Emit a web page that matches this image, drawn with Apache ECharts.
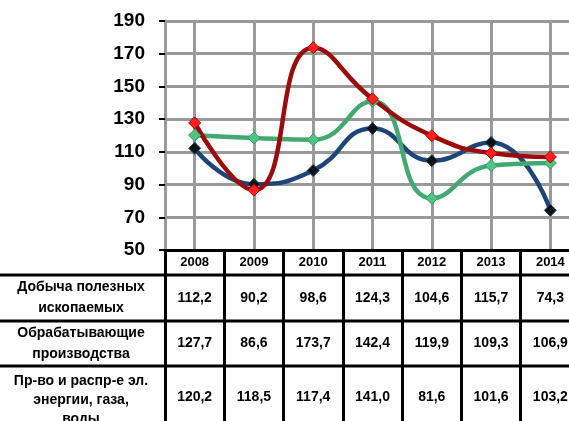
<!DOCTYPE html>
<html>
<head>
<meta charset="utf-8">
<script src="https://cdn.jsdelivr.net/npm/echarts@6/dist/echarts.min.js"></script>
<style>
html,body{margin:0;padding:0;background:#fff;}
#c{width:569px;height:421px;}
</style>
</head>
<body>
<div id="c"></div>
<script>
const years = ['2008','2009','2010','2011','2012','2013','2014'];
const mining = [112.2, 90.2, 98.6, 124.3, 104.6, 115.7, 74.3];
const manufacturing = [127.7, 86.6, 173.7, 142.4, 119.9, 109.3, 106.9];
const energy = [120.2, 118.5, 117.4, 141.0, 81.6, 101.6, 103.2];
const rowNames = ['Добыча полезных\nископаемых', 'Обрабатывающие\nпроизводства', 'Пр-во и распр-е эл.\nэнергии, газа,\nводы'];
const yMin = 50, yMax = 190, yStep = 20;

const fmt = v => v.toFixed(1).replace('.', ',');
const FONT = 'Liberation Sans, Arial, sans-serif';

const chart = echarts.init(document.getElementById('c'), null, {renderer: 'canvas'});

function valueAxis(values, margin) {
  return {
    type: 'category', gridIndex: 0, position: 'bottom', data: values.map(fmt),
    axisLine: {show: false}, axisTick: {show: false}, splitLine: {show: false},
    axisLabel: {interval: 0, margin: margin, verticalAlign: 'middle', color: '#000',
      fontWeight: 'bold', fontSize: 14, fontFamily: FONT}
  };
}

function rowText(i, y, lh) {
  return {type: 'text', x: 81, y: y, style: {text: rowNames[i], fill: '#000', font: 'bold 14px ' + FONT,
    textAlign: 'center', textVerticalAlign: 'middle', lineHeight: lh, align: 'center', verticalAlign: 'middle'}};
}

const option = {
  animation: false,
  backgroundColor: '#fff',
  grid: {left: 165, width: 415, top: 21, bottom: 171, containLabel: false, outerBoundsMode: 'none'},
  xAxis: [
    {
      type: 'category', data: years, position: 'bottom',
      axisLine: {show: true, lineStyle: {color: '#000', width: 3}},
      axisTick: {show: true, length: 171, lineStyle: {color: '#000', width: 3}},
      splitLine: {show: true, alignWithLabel: true, lineStyle: {color: '#999', width: 3}},
      axisLabel: {interval: 0, margin: 12, verticalAlign: 'middle', color: '#000',
        fontWeight: 'bold', fontSize: 13, fontFamily: FONT}
    },
    valueAxis(mining, 48),
    valueAxis(manufacturing, 93),
    valueAxis(energy, 147)
  ],
  yAxis: {
    type: 'value', min: yMin, max: yMax, interval: yStep,
    axisLine: {show: true, lineStyle: {color: '#999', width: 3}},
    axisTick: {show: true, length: 6, lineStyle: {color: '#000', width: 2}},
    splitLine: {show: true, lineStyle: {color: '#999', width: 3}},
    axisLabel: {margin: 20, color: '#000', fontWeight: 'bold', fontSize: 19, fontFamily: FONT}
  },
  series: [
    {
      name: 'Добыча полезных ископаемых', type: 'line', data: mining, smooth: 0.5,
      symbol: 'diamond', symbolSize: 12,
      lineStyle: {color: '#1d4577', width: 4.5},
      itemStyle: {color: '#111', borderColor: '#1d4577', borderWidth: 1}
    },
    {
      name: 'Пр-во и распр-е эл. энергии, газа, воды', type: 'line', data: energy, smooth: 0.5,
      symbol: 'diamond', symbolSize: 12,
      lineStyle: {color: '#44a872', width: 4.5},
      itemStyle: {color: '#4fc483', borderColor: '#3a9a66', borderWidth: 1}
    },
    {
      name: 'Обрабатывающие производства', type: 'line', data: manufacturing, smooth: 0.5,
      symbol: 'diamond', symbolSize: 12,
      lineStyle: {color: '#9a0c0c', width: 4.5},
      itemStyle: {color: '#ff2020', borderColor: '#b00000', borderWidth: 1}
    }
  ],
  graphic: [
    {type: 'line', shape: {x1: 0, y1: 275, x2: 569, y2: 275}, style: {stroke: '#000', lineWidth: 3}},
    {type: 'line', shape: {x1: 0, y1: 321, x2: 569, y2: 321}, style: {stroke: '#000', lineWidth: 3}},
    {type: 'line', shape: {x1: 0, y1: 366, x2: 569, y2: 366}, style: {stroke: '#000', lineWidth: 3}},
    rowText(0, 298, 21),
    rowText(1, 344, 21),
    rowText(2, 400, 19)
  ]
};
chart.setOption(option);
</script>
</body>
</html>
